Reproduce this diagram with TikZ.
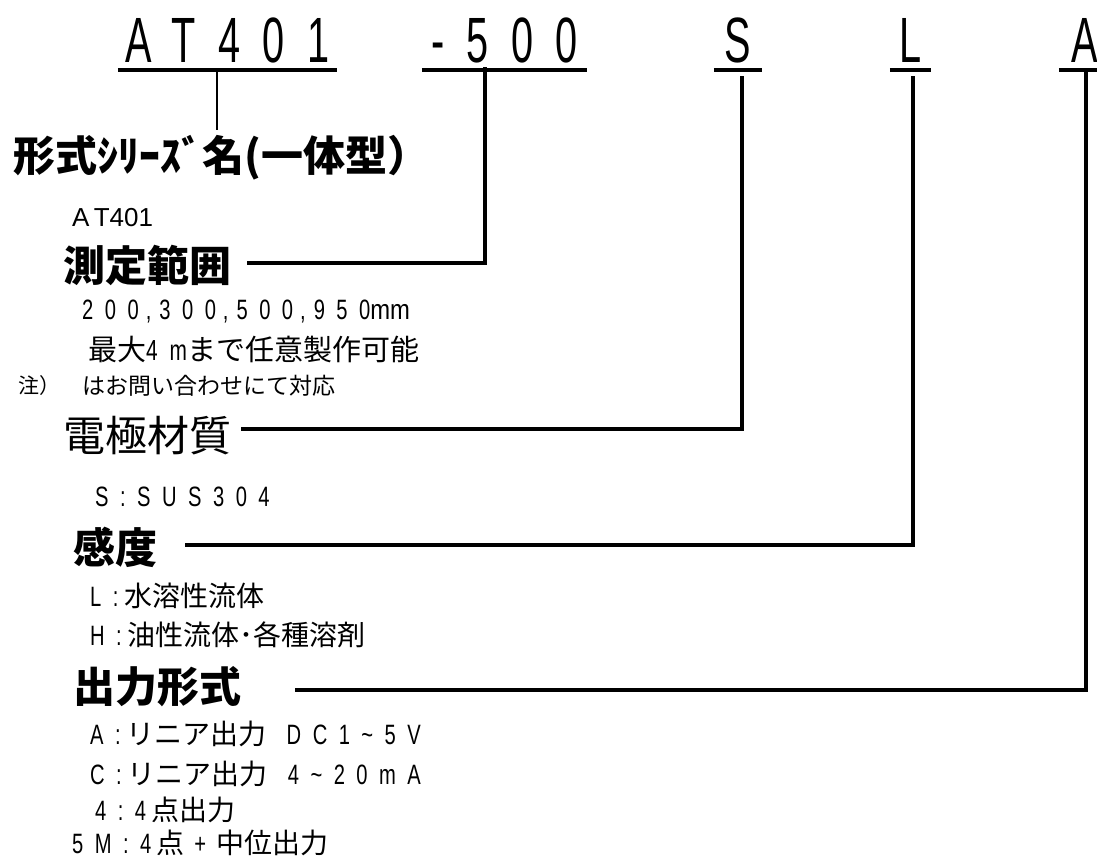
\documentclass[tikz,border=0pt]{standalone}
\usepackage{fontspec}
\setmainfont{Noto Sans CJK JP}
\newfontfamily\codefont[FakeStretch=0.62,LetterSpace=35]{Liberation Sans}
\newfontfamily\latfont[FakeStretch=0.72,LetterSpace=41]{Liberation Sans}
\newfontfamily\unitfont[FakeStretch=0.85]{Liberation Sans}
\newfontfamily\arialfont{Liberation Sans}
\usetikzlibrary{positioning}
\tikzset{lead/.style={line width=4pt}}
\tikzset{uline/.style={line width=3.5pt}}

\begin{document}
\begin{tikzpicture}[x=1pt, y=-1pt,
		code/.style={font=\codefont\fontsize{64}{64}\selectfont, anchor=south, inner xsep=0pt, inner ysep=7pt, text height=46pt, text depth=0pt},
		head/.style={font=\bfseries\fontsize{42}{42}\selectfont},
		item/.style={font=\fontsize{28}{28}\selectfont}]
		\useasboundingbox (0,0) rectangle (1097,858);
		\fill[white] (0,0) rectangle (1097,858);

		% model code
		\node[code, minimum width=219pt] (p1) at (227.5,70) {AT401};
		\node[code, minimum width=165pt] (p2) at (504.5,70) {-500};
		\node[code, minimum width=48pt] (pS) at (738,70) {S};
		\node[code, minimum width=41pt] (pL) at (910.5,70) {L};
		\node[code, minimum width=52pt] (pA) at (1085,70) {A};

		\draw[uline] (p1.south west) -- (p1.south east);
		\draw[uline] (p2.south west) -- (p2.south east);
		\draw[uline] (pS.south west) -- (pS.south east);
		\draw[uline] (pL.south west) -- (pL.south east);
		\draw[uline] (pA.south west) -- (pA.south east);

		\begin{scope}[every node/.append style={anchor=west, inner sep=0pt}]
			\node[head] (series) at (13,157.5) {形式ｼﾘｰｽﾞ名(一体型）};
			\node[font=\arialfont\fontsize{26}{26}\selectfont] (seriesval) at (72,217.5) {A\,T401};

			\node[head] (range) at (63,265) {測定範囲};
			\node[item] (range1) at (82,312) {{\latfont 200}\hspace{7pt}{\latfont ,}\hspace{8pt}{\latfont 300}\hspace{7pt}{\latfont ,}\hspace{8pt}{\latfont 500}\hspace{7pt}{\latfont ,}\hspace{8pt}{\latfont 950}{\unitfont mm}};
			\node[font=\fontsize{29}{29}\selectfont] (range2) at (88,349.5) {最大{\latfont 4m}まで任意製作可能};
			\node[font=\fontsize{21}{21}\selectfont] (note) at (18,386) {注）};
			\node[font=\fontsize{23}{23}\selectfont] (range3) at (82,386) {はお問い合わせにて対応};

			\node[font=\fontsize{42}{42}\selectfont] (elec) at (63,436) {電極材質};
			\node[item] (elec1) at (95,497) {\latfont S:SUS304};

			\node[head] (sens) at (73,547.5) {感度};
			\node[item] (sens1) at (90,596) {{\latfont L:}\hspace{6pt}水溶性流体};
			\node[item] (sens2) at (90,635) {{\latfont H:}\hspace{6pt}油性流体･各種溶剤};

			\node[head] (out) at (73,686.5) {出力形式};
			\node[item] (out1) at (90,734) {{\latfont A:}\hspace{6pt}リニア出力\hspace{20pt}{\latfont DC1\textasciitilde5V}};
			\node[item] (out2) at (90,773.5) {{\latfont C:}\hspace{6pt}リニア出力\hspace{20pt}{\latfont 4\textasciitilde20mA}};
			\node[item] (out3) at (95,810) {{\latfont 4:4}\hspace{5pt}点出力};
			\node[item] (out4) at (72,843) {{\latfont 5M:4}\hspace{5pt}点\hspace{10pt}{\latfont +}\hspace{10pt}中位出力};
		\end{scope}

		\draw[line width=2pt, shorten >=5pt] ([xshift=-10.5pt]p1.south) -- ([xshift=-10.5pt]p1.south |- series.north);
		\draw[lead, shorten >=-3pt] ([xshift=16pt,yshift=2pt]range.east) -| ([xshift=-19.5pt]p2.south);
		\draw[lead, shorten >=6pt] ([xshift=10pt,yshift=7pt]elec.east) -| ([xshift=4pt]pS.south);
		\draw[lead, shorten >=6pt] ([xshift=28pt,yshift=2.5pt]sens.east) -| ([xshift=2.5pt]pL.south);
		\draw[lead] ([xshift=54pt,yshift=-3.5pt]out.east) -| ([xshift=1pt]pA.south);
	\end{tikzpicture}
\end{document}
